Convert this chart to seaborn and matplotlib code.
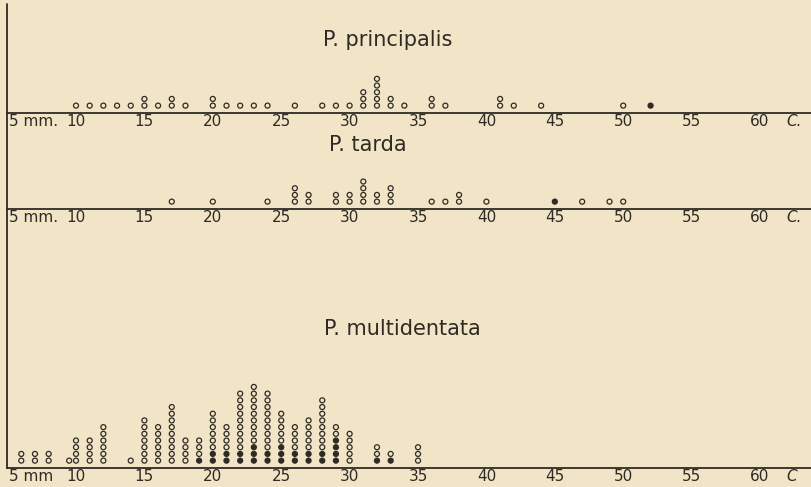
import matplotlib.pyplot as plt
import seaborn as sns
import pandas as pd

# P. principalis: length in mm, number of specimens, of which filled (black) dots
princ_mm = [10, 11, 12, 13, 14, 15, 16, 17, 18, 20, 21, 22, 23, 24, 26, 28, 29, 30,
            31, 32, 33, 34, 36, 37, 41, 42, 44, 50, 52]
princ_n = [1, 1, 1, 1, 1, 2, 1, 2, 1, 2, 1, 1, 1, 1, 1, 1, 1, 1,
           3, 5, 2, 1, 2, 1, 2, 1, 1, 1, 1]
princ_filled = [0, 0, 0, 0, 0, 0, 0, 0, 0, 0, 0, 0, 0, 0, 0, 0, 0, 0,
                0, 0, 0, 0, 0, 0, 0, 0, 0, 0, 1]

# P. tarda
tarda_mm = [17, 20, 24, 26, 27, 29, 30, 31, 32, 33, 36, 37, 38, 40, 45, 47, 49, 50]
tarda_n = [1, 1, 1, 3, 2, 2, 2, 4, 2, 3, 1, 1, 2, 1, 1, 1, 1, 1]
tarda_filled = [0, 0, 0, 0, 0, 0, 0, 0, 0, 0, 0, 0, 0, 0, 1, 0, 0, 0]

# P. multidentata
multi_mm = [6, 7, 8, 9.5, 10, 11, 12, 14, 15, 16, 17, 18, 19, 20, 21, 22, 23, 24,
            25, 26, 27, 28, 29, 30, 32, 33, 35]
multi_n = [2, 2, 2, 1, 4, 4, 6, 1, 7, 6, 9, 4, 4, 8, 6, 11, 12, 11,
           8, 6, 7, 10, 6, 5, 3, 2, 3]
multi_filled = [0, 0, 0, 0, 0, 0, 0, 0, 0, 0, 0, 0, 1, 2, 2, 2, 3, 2,
                3, 2, 2, 2, 4, 0, 1, 1, 0]

tick_pos = [10, 15, 20, 25, 30, 35, 40, 45, 50, 55, 60]
tick_labels = ['10', '15', '20', '25', '30', '35', '40', '45', '50', '55', '60']

titles = ['P. principalis', 'P. tarda', 'P. multidentata']


def stack(mm, n, filled):
    # one row per dot, stacked upward, filled dots at the bottom
    rows = []
    for x, c, f in zip(mm, n, filled):
        for k in range(c):
            rows.append({'mm': x, 'level': k + 1, 'kind': 'filled' if k < f else 'open'})
    return pd.DataFrame(rows)


panels = [
    (stack(princ_mm, princ_n, princ_filled), '5 mm.', 'C.'),
    (stack(tarda_mm, tarda_n, tarda_filled), '5 mm.', 'C.'),
    (stack(multi_mm, multi_n, multi_filled), '5 mm', 'C'),
]

sns.set_style('white')
plt.rcParams['font.family'] = ['DejaVu Sans']

bg = '#f2e4c6'
ink = '#2e2a24'
W, H = 812, 487
fig = plt.figure(figsize=(W / 100, H / 100), dpi=100, facecolor=bg)

# panel extents in pixels (top, baseline) and title placement
bounds = [(0, 113), (113, 209), (209, 468)]
title_xy = [(0.478, 0.65), (0.453, 0.67), (0.496, 0.535)]
step = 6.7  # pixels between stacked dots

for (df, left_txt, right_txt), (top, base), title, (tx, ty) in zip(panels, bounds, titles, title_xy):
    ax = fig.add_axes([0, 1 - base / H, 1, (base - top) / H])
    ax.set_facecolor('none')
    sns.scatterplot(data=df, x='mm', y='level', hue='kind',
                    palette={'open': bg, 'filled': ink}, edgecolor=ink,
                    linewidth=0.9, s=13, legend=False, ax=ax, zorder=3)
    ax.set_xlim(4.444, 63.8)
    ax.set_ylim(-0.1, -0.1 + (base - top) / step)
    ax.set_xlabel('')
    ax.set_ylabel('')
    ax.set_yticks([])
    ax.set_xticks(tick_pos)
    ax.set_xticklabels(tick_labels)
    ax.tick_params(axis='x', length=0, pad=1, labelsize=11, labelcolor=ink)
    for side in ['top', 'left', 'right']:
        ax.spines[side].set_visible(False)
    ax.spines['bottom'].set_color(ink)
    ax.spines['bottom'].set_linewidth(1.3)
    ax.spines['bottom'].set_bounds(4.95, 63.8)
    ax.annotate(left_txt, xy=(5.1, 0), xycoords=('data', 'axes fraction'),
                xytext=(0, -1), textcoords='offset points', va='top', ha='left',
                fontsize=11, color=ink)
    ax.annotate(right_txt, xy=(61.9, 0), xycoords=('data', 'axes fraction'),
                xytext=(0, -1), textcoords='offset points', va='top', ha='left',
                fontsize=11, style='italic', color=ink)
    ax.text(tx, ty, title, transform=ax.transAxes, ha='center', va='center',
            fontsize=15, color=ink)

# left vertical rule running through all three panels
fig.add_artist(plt.Line2D([7 / W, 7 / W], [1 - 468 / H, 1 - 4 / H],
                          color=ink, lw=1.3, transform=fig.transFigure))

fig.savefig('out.png', dpi=100, facecolor=bg)
